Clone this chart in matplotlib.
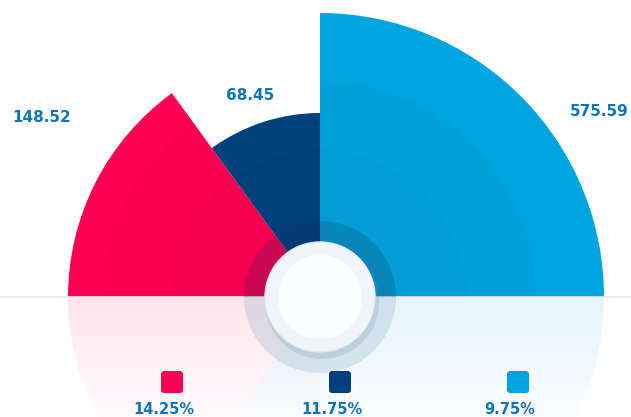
import numpy as np
import matplotlib.pyplot as plt
from matplotlib.patches import Wedge, Circle, FancyBboxPatch

values = [148.52, 68.45, 575.59]
percents = ["14.25%", "11.75%", "9.75%"]
colors = ["#ff0055", "#02417e", "#00a5e0"]
# angular span (degrees) and radius (px)
theta1 = [126, 90, 0]
theta2 = [180, 126, 90]
radius = [252, 184, 284]

txt_col = "#0b74bb"

fig = plt.figure(figsize=(6.31, 4.17), dpi=100)
ax = fig.add_axes([0, 0, 1, 1])
ax.set_xlim(-320, 311)
ax.set_ylim(-120, 297)
ax.set_aspect("auto")
ax.axis("off")

# main wedges
for t1, t2, r, c in zip(theta1, theta2, radius, colors):
    ax.add_patch(Wedge((0, 0), r, t1, t2, facecolor=c, edgecolor="none", zorder=2))
    # subtle inner rings
    for rr, a in [(216, 0.018), (147, 0.018)]:
        if rr < r:
            ax.add_patch(Wedge((0, 0), rr, t1, t2, facecolor="black", alpha=a,
                               edgecolor="none", zorder=3))

# reflection
for t1, t2, r, c in zip(theta1, theta2, radius, colors):
    ax.add_patch(Wedge((0, 0), r, -t2, -t1, facecolor=c, alpha=0.1,
                       edgecolor="none", zorder=2))
grad = np.zeros((100, 2, 4))
grad[..., :3] = 1.0
grad[..., 3] = np.linspace(0.0, 0.85, 100)[:, None]
ax.imshow(grad, extent=(-320, 311, -120, 0), origin="upper", aspect="auto", zorder=4)
ax.plot([-320, 311], [0, 0], color="#e6e8ec", lw=1.2, zorder=4)

# centre knob
ax.add_patch(Wedge((0, 0), 76, 0, 180, facecolor="#1c2c50", alpha=0.2, edgecolor="none", zorder=5))
ax.add_patch(Wedge((0, 0), 76, 180, 360, facecolor="#9fbed3", alpha=0.35, edgecolor="none", zorder=5))
ax.add_patch(Circle((2, -5), 57, facecolor="#7d98b3", alpha=0.25, edgecolor="none", zorder=5))
ax.add_patch(Circle((0, 0), 55, facecolor="#f1f5f8", edgecolor="#e4eaef", lw=1, zorder=6))
ax.add_patch(Circle((0, 0), 42, facecolor="#fbfcfd", edgecolor="none", zorder=7))

# value labels
lab_xy = [(-278, 180), (-70, 201), (279, 186)]
for (x, y), v in zip(lab_xy, values):
    ax.text(x, y, f"{v:.2f}", color=txt_col, fontsize=11, fontweight="bold",
            family="DejaVu Sans", ha="center", va="center", zorder=8)

# legend
leg_x = [-148, 20, 198]
for x, c, p in zip(leg_x, colors, percents):
    ax.add_patch(FancyBboxPatch((x - 11, -96), 22, 22,
                                boxstyle="round,pad=0,rounding_size=3",
                                facecolor=c, edgecolor="none", zorder=8))
    ax.text(x - 8, -112, p, color=txt_col, fontsize=10.5, fontweight="bold",
            family="DejaVu Sans", ha="center", va="center", zorder=8)

fig.savefig("out.png", dpi=100)
